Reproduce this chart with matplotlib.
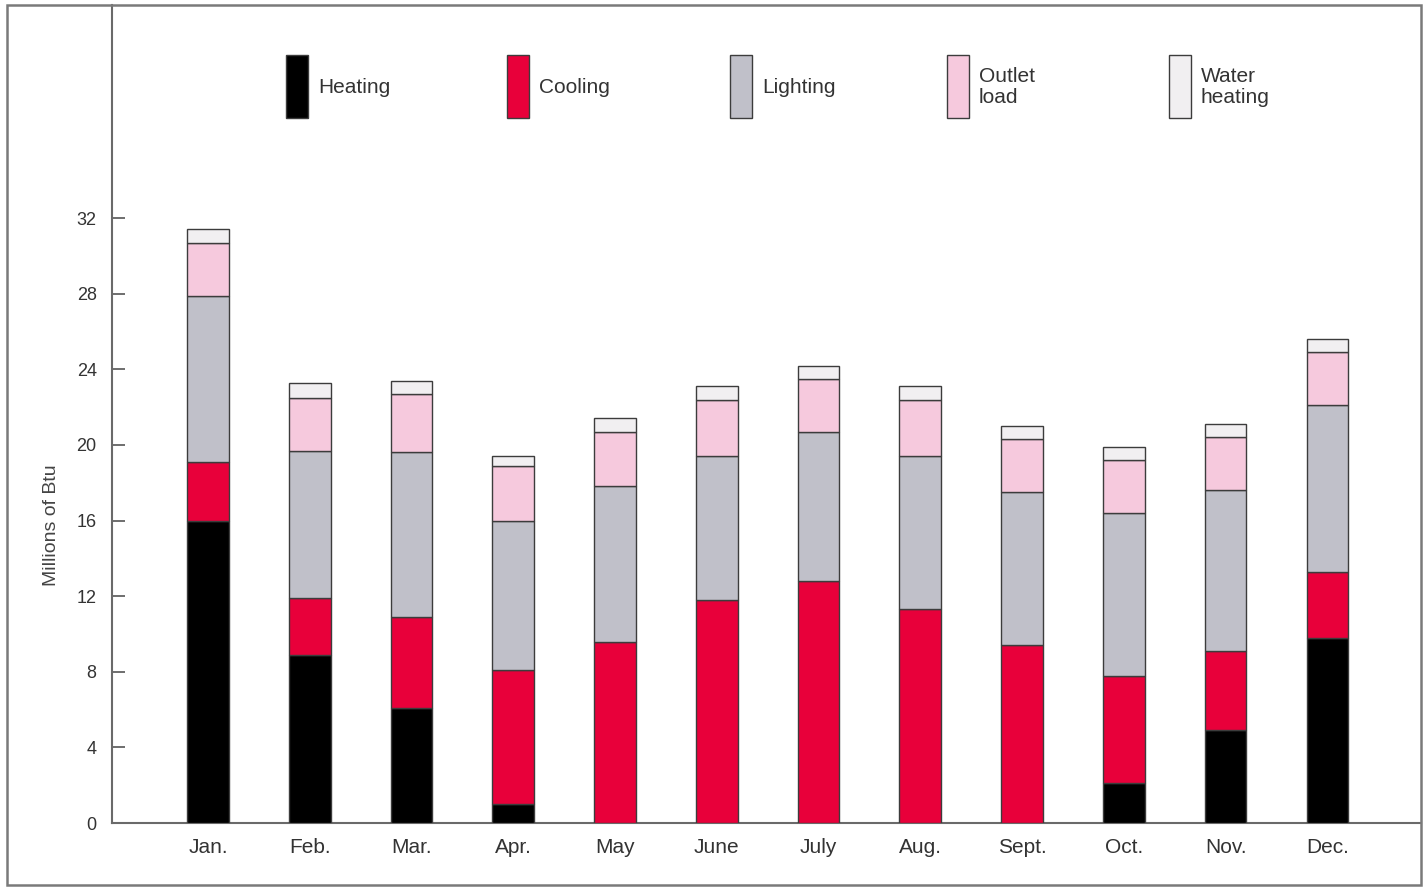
import matplotlib
matplotlib.use("Agg")
import matplotlib.pyplot as plt
from matplotlib.patches import Rectangle
import numpy as np

plt.rcParams['font.family'] = ['Liberation Sans', 'DejaVu Sans']

months = ["Jan.", "Feb.", "Mar.", "Apr.", "May", "June",
          "July", "Aug.", "Sept.", "Oct.", "Nov.", "Dec."]

# monthly energy use, millions of Btu
heating = [16.0, 8.9, 6.1, 1.0, 0, 0, 0, 0, 0, 2.1, 4.9, 9.8]
cooling = [3.1, 3.0, 4.8, 7.1, 9.6, 11.8, 12.8, 11.3, 9.4, 5.7, 4.2, 3.5]
lighting = [8.8, 7.8, 8.7, 7.9, 8.2, 7.6, 7.9, 8.1, 8.1, 8.6, 8.5, 8.8]
outlet = [2.8, 2.8, 3.1, 2.9, 2.9, 3.0, 2.8, 3.0, 2.8, 2.8, 2.8, 2.8]
water = [0.7, 0.8, 0.7, 0.5, 0.7, 0.7, 0.7, 0.7, 0.7, 0.7, 0.7, 0.7]

series = [heating, cooling, lighting, outlet, water]
labels = ["Heating", "Cooling", "Lighting", "Outlet\nload", "Water\nheating"]
colors = ["#000000", "#e8003a", "#c0c0c9", "#f6c9dd", "#f1eff1"]
edge = "#3c3c3c"

W, H = 1426, 888
fig = plt.figure(figsize=(W / 100, H / 100), dpi=100)
ax = fig.add_axes([112 / W, (H - 823) / H, (1421 - 112) / W, (823 - 5) / H])

x = np.arange(len(months))
bottom = np.zeros(len(months))
for vals, col in zip(series, colors):
    ax.bar(x, vals, width=0.41, bottom=bottom, color=col,
           edgecolor=edge, linewidth=1.0, zorder=3)
    bottom += np.array(vals)

ax.set_xlim(-0.943, 11.92)
ax.set_ylim(0, 43.27)
ax.set_yticks(range(0, 33, 4))
ax.set_xticks(x)
ax.set_xticklabels(months)
ax.tick_params(axis="y", direction="in", length=9, width=1.2,
               color="#555555", labelsize=13, labelcolor="#333333", pad=11)
ax.tick_params(axis="x", length=0, labelsize=15, labelcolor="#333333", pad=11)
for s in ["top", "right"]:
    ax.spines[s].set_visible(False)
for s in ["left", "bottom"]:
    ax.spines[s].set_color("#6a6a6a")
    ax.spines[s].set_linewidth(1.5)

ax.set_ylabel("Millions of Btu", fontsize=14, color="#444444")
ax.yaxis.set_label_coords(-0.04, 0.364)

# outer frame around the whole figure
fig.add_artist(Rectangle((7 / W, 3 / H), (1421 - 7) / W, (883 - 3) / H,
                         transform=fig.transFigure, fill=False,
                         edgecolor="#7a7a7a", linewidth=1.8))

# legend drawn as tall swatches across the top
patch_x = [286, 507, 730, 947, 1169]
for px, lab, col in zip(patch_x, labels, colors):
    fig.add_artist(Rectangle((px / W, (H - 118) / H), 22 / W, 63 / H,
                             transform=fig.transFigure, facecolor=col,
                             edgecolor=edge, linewidth=1.0))
    fig.text((px + 32) / W, (H - 87) / H, lab, fontsize=15, color="#333333",
             va="center", ha="left", linespacing=1.1)

fig.savefig("out.png", dpi=100)
